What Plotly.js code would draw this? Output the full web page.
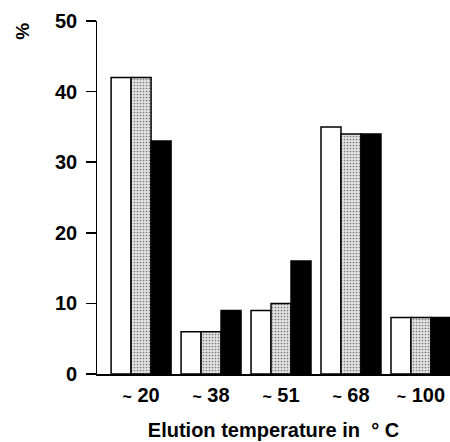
<!DOCTYPE html>
<html>
<head>
<meta charset="utf-8">
<script src="https://cdn.plot.ly/plotly-3.0.1.min.js"></script>
<style>html,body{margin:0;padding:0;background:#fff;}#chart{width:450px;height:442px;}</style>
</head>
<body>
<div id="chart"></div>
<script>
const categories = ["~ 20", "~ 38", "~ 51", "~ 68", "~ 100"];
const seriesWhite = [42, 6, 9, 35, 8];
const seriesGray = [42, 6, 10, 34, 8];
const seriesBlack = [33, 9, 16, 34, 8];
const yTicks = [0, 10, 20, 30, 40, 50];

const tickText = categories.map(c => {
  const parts = c.split(" ");
  return "<span style='font-size:16px'>" + parts[0] + "</span> " + parts[1];
});

const idx = categories.map((c, i) => i);
const line = {color: "#000", width: 1.5};

const traces = [
  {type: "bar", x: idx, y: seriesWhite, marker: {color: "#ffffff", line: line}, hoverinfo: "skip"},
  {type: "bar", x: idx, y: seriesGray, marker: {color: "#d4d4d4", line: line,
    pattern: {shape: ".", fgcolor: "#7a7a7a", bgcolor: "#e2e2e2", size: 3, solidity: 0.25}}, hoverinfo: "skip"},
  {type: "bar", x: idx, y: seriesBlack, marker: {color: "#000000", line: line}, hoverinfo: "skip"}
];

const font = {family: "Liberation Sans, Arial, sans-serif", color: "#000"};
const tickFont = {family: font.family, size: 20, color: "#000", weight: "bold"};

const yLabelAnnotations = yTicks.map(v => ({
  xref: "paper", yref: "y", x: -0.052, y: v,
  xanchor: "right", yanchor: "middle",
  text: String(v), showarrow: false, font: tickFont
}));

const layout = {
  width: 450, height: 442,
  margin: {l: 97, r: 0, t: 21, b: 68},
  paper_bgcolor: "#fff", plot_bgcolor: "#fff",
  showlegend: false,
  barmode: "group",
  bargap: 0.143, bargroupgap: 0,
  font: font,
  xaxis: {
    range: [-0.63, 4.415],
    tickmode: "array", tickvals: idx, ticktext: tickText,
    showline: true, linecolor: "#000", linewidth: 1.5,
    ticks: "", showgrid: false, zeroline: false,
    ticklabelstandoff: 2,
    tickfont: tickFont,
    title: {text: "Elution temperature in&nbsp;&nbsp;°&nbsp;C", font: {family: font.family, size: 20, color: "#000", weight: "bold"}, standoff: 18}
  },
  yaxis: {
    range: [0, 50],
    tickmode: "array", tickvals: yTicks,
    showline: true, linecolor: "#000", linewidth: 1.5,
    ticks: "outside", ticklen: 10, tickwidth: 1.5, tickcolor: "#000",
    showgrid: false, zeroline: false,
    showticklabels: false
  },
  annotations: [{
    xref: "paper", yref: "paper", x: -0.21, y: 0.972,
    xanchor: "center", yanchor: "middle",
    text: "%", showarrow: false, textangle: -90,
    font: {family: font.family, size: 19, color: "#000", weight: "bold"}
  }].concat(yLabelAnnotations)
};

Plotly.newPlot("chart", traces, layout, {displayModeBar: false, staticPlot: true});
</script>
</body>
</html>
